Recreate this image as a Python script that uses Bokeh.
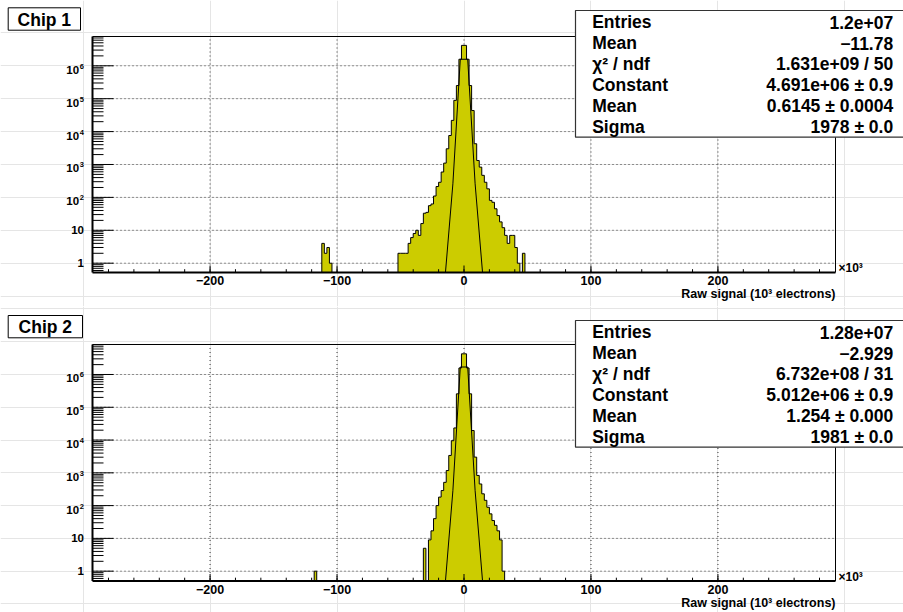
import numpy as np
from bokeh.plotting import figure
from bokeh.layouts import column
from bokeh.models import Range1d
from bokeh.core.properties import value
from bokeh.embed import file_html
from bokeh.resources import INLINE

# ---------------- data (x in 10^3 electrons, 2k-electron bins) ----------------
BIN_W = 2.0
X_LO, X_HI = -292.6, 292.6
HIST_LO, HIST_HI = -292.0, 292.0

chip_names = ["Chip 1", "Chip 2"]

chip1_core_start = -52
chip1_core_counts = [2, 2, 2, 2, 4, 6, 8, 10, 7, 16, 33, 35, 56, 63, 110, 214, 288, 590,
                     1100, 3000, 7600, 21900, 89000, 251000, 1580000, 4170000,
                     4170000, 1580000, 251000, 43600, 4270, 1320, 832, 468, 288, 182,
                     81, 71, 45, 28, 18, 12, 7, 4, 7, 7, 3, 1, 0, 2]
chip1_iso_start = [-112, -110, -108, -106]
chip1_iso_counts = [4, 2, 3, 1]

chip2_core_start = -32
chip2_core_counts = [5, 0, 9, 17, 40, 100, 182, 288, 513, 1175, 3390, 9550, 23400,
                     257000, 1580000, 4270000,
                     4270000, 1580000, 257000, 19500, 3020, 832, 457, 229, 145, 89,
                     56, 35, 25, 17, 9, 1]
chip2_iso_start = [-118]
chip2_iso_counts = [1]

chip1_fit = {"const": 4.691e6, "mean": 0.6145, "sigma": 1978.0}   # mean/sigma in electrons
chip2_fit = {"const": 5.012e6, "mean": 1.254, "sigma": 1981.0}

stat_names = ["Entries", "Mean", "\u03c7\u00b2 / ndf", "Constant", "Mean", "Sigma"]
chip1_stat_values = ["1.2e+07", "\u221211.78", "1.631e+09 / 50", "4.691e+06 \u00b1 0.9",
                     "0.6145 \u00b1 0.0004", "1978 \u00b1 0.0"]
chip2_stat_values = ["1.28e+07", "\u22122.929", "6.732e+08 / 31", "5.012e+06 \u00b1 0.9",
                     "1.254 \u00b1 0.000", "1981 \u00b1 0.0"]

x_major_ticks = [-200, -100, 0, 100, 200]
x_minor_ticks = list(range(-280, 281, 20))
y_major_exp = [0, 1, 2, 3, 4, 5, 6]
x_title = "Raw signal (10\u00b3 electrons)"
x_exponent = "\u00d710\u00b3"

# ---------------- style / layout ----------------
FILL = "#cccc00"
GRID = "#333333"
FONT = value("Liberation Sans")
W, H = 903, 306
FL, FR = 92, 835
SUP = "\u2070\u00b9\u00b2\u00b3\u2074\u2075\u2076\u2077\u2078\u2079"


def make_panel(chip, core_start, core_counts, iso_start, iso_counts, fit, values,
               y_lo_log, y_hi_log, ft, fb, chip_box, stats_box):
    def xa(px):
        return X_LO + (px - FL) / (FR - FL) * (X_HI - X_LO)

    def ya(py):
        return 10 ** (y_lo_log + (fb - py) / (fb - ft) * (y_hi_log - y_lo_log))

    p = figure(width=W, height=H, x_range=Range1d(xa(0), xa(W)),
               y_range=Range1d(ya(H), ya(0)), y_axis_type="log",
               x_axis_location=None, y_axis_location=None,
               output_backend="svg", toolbar_location=None, title=None,
               min_border=0)
    p.min_border_left = p.min_border_right = 0
    p.min_border_top = p.min_border_bottom = 0
    p.outline_line_color = None
    p.background_fill_color = "white"
    p.border_fill_color = "white"

    ymin, ymax = 10 ** y_lo_log, 10 ** y_hi_log
    y_major = [10.0 ** e for e in y_major_exp]
    y_minor = [m * 10.0 ** d for d in range(-1, 8) for m in range(2, 10)
               if ymin <= m * 10.0 ** d <= ymax]

    # grid
    nx, ny = len(x_major_ticks), len(y_major)
    p.segment(x0=x_major_ticks, y0=[ymin] * nx, x1=x_major_ticks, y1=[ymax] * nx,
              line_color=GRID, line_dash="1 3", line_width=1)
    p.segment(x0=[X_LO] * ny, y0=y_major, x1=[X_HI] * ny, y1=y_major,
              line_color=GRID, line_dash="1 3", line_width=1)

    # histogram
    edges = np.arange(HIST_LO, HIST_HI + BIN_W / 2, BIN_W)
    counts = np.zeros(len(edges) - 1)

    def put(lo, vals):
        for k, v in enumerate(vals):
            counts[int(round((lo + k * BIN_W - HIST_LO) / BIN_W))] = v

    put(core_start, core_counts)
    for lo, v in zip(iso_start, iso_counts):
        put(lo, [v])
    step_x = np.repeat(edges, 2)[1:-1]
    step_y = np.repeat(np.maximum(counts, ymin), 2)
    p.patch(np.concatenate([[edges[0]], step_x, [edges[-1]]]),
            np.concatenate([[ymin], step_y, [ymin]]),
            fill_color=FILL, line_color=None)
    p.line(step_x, step_y, line_color="black", line_width=1)

    # gaussian fit, sampled like ROOT (npx = 100), clamped at the frame bottom
    npx = 100
    fx = HIST_LO + (np.arange(npx) + 0.5) * (HIST_HI - HIST_LO) / npx
    g = fit["const"] * np.exp(-0.5 * ((fx * 1e3 - fit["mean"]) / fit["sigma"]) ** 2)
    g = np.maximum(g, ymin)
    p.line(fx, g, line_color="black", line_width=1)

    # frame
    p.segment(x0=[X_LO, X_HI], y0=[ymax, ymin], x1=[X_HI, X_HI], y1=[ymax, ymax],
              line_color="black", line_width=1)
    p.segment(x0=[X_LO, X_LO], y0=[ymin, ymin], x1=[X_HI, X_LO], y1=[ymin, ymax],
              line_color="black", line_width=2)

    # ticks (ROOT style, inside the frame)
    p.segment(x0=[X_LO] * ny, y0=y_major, x1=[xa(FL + 21)] * ny, y1=y_major,
              line_color="black", line_width=1)
    p.segment(x0=[X_LO] * len(y_minor), y0=y_minor, x1=[xa(FL + 11)] * len(y_minor),
              y1=y_minor, line_color="black", line_width=1)
    p.segment(x0=x_major_ticks, y0=[ymin] * nx, x1=x_major_ticks, y1=[ya(fb - 7)] * nx,
              line_color="black", line_width=1)
    p.segment(x0=x_minor_ticks, y0=[ymin] * len(x_minor_ticks), x1=x_minor_ticks,
              y1=[ya(fb - 3.3)] * len(x_minor_ticks), line_color="black", line_width=1)

    # tick labels
    x_labels = [("\u2212" + str(abs(t))) if t < 0 else str(t) for t in x_major_ticks]
    p.text(x=x_major_ticks, y=[ya(fb + 8.2)] * nx, text=x_labels, text_font=FONT,
           text_font_style="bold", text_font_size="12.5px", text_color="black",
           text_align="center", text_baseline="middle")
    plain = [(10.0 ** e, "1" if e == 0 else "10") for e in y_major_exp if e < 2]
    p.text(x=[xa(83.5)] * len(plain), y=[v for v, _ in plain], text=[t for _, t in plain],
           text_font=FONT, text_font_style="bold", text_font_size="11.5px",
           text_color="black", text_align="right", text_baseline="middle")
    powers = [e for e in y_major_exp if e >= 2]
    p.text(x=[xa(78.6)] * len(powers), y=[10.0 ** e for e in powers],
           text=["10"] * len(powers), y_offset=4, text_font=FONT,
           text_font_style="bold", text_font_size="11.5px", text_color="black",
           text_align="right", text_baseline="middle")
    p.text(x=[xa(79.2)] * len(powers), y=[10.0 ** e for e in powers],
           text=[str(e) for e in powers], y_offset=0.5, text_font=FONT,
           text_font_style="bold", text_font_size="7.5px", text_color="black",
           text_align="left", text_baseline="middle")

    # axis title and exponent
    p.text(x=[xa(FR)], y=[ya(fb + 21.8)], text=[x_title], text_font=FONT,
           text_font_style="bold", text_font_size="12.5px", text_color="black",
           text_align="right", text_baseline="middle")
    p.text(x=[xa(FR + 3)], y=[ya(fb - 4.5)], text=[x_exponent], text_font=FONT,
           text_font_style="bold", text_font_size="12px", text_color="black",
           text_align="left", text_baseline="middle")

    # chip box
    cl, ct, cr, cb = chip_box
    p.quad(left=[xa(cl)], right=[xa(cr)], top=[ya(ct)], bottom=[ya(cb)],
           fill_color="white", line_color="black", line_width=1)
    p.text(x=[xa((cl + cr) / 2)], y=[ya((ct + cb) / 2 + 0.5)], text=[chip],
           text_font=FONT, text_font_style="bold", text_font_size="17.5px",
           text_color="black", text_align="center", text_baseline="middle")

    # statistics box
    sl, st, sr, sb = stats_box
    p.quad(left=[xa(sl)], right=[xa(sr)], top=[ya(st)], bottom=[ya(sb)],
           fill_color="white", line_color="#333333", line_width=1.2)
    rows_y = [ya(st + 11.7 + 20.9 * i) for i in range(len(stat_names))]
    p.text(x=[xa(sl + 16.7)] * len(stat_names), y=rows_y, text=stat_names,
           text_font=FONT, text_font_style="bold", text_font_size="17.5px",
           text_color="black", text_align="left", text_baseline="middle")
    p.text(x=[xa(892.7)] * len(values), y=rows_y, text=values,
           text_font=FONT, text_font_style="bold", text_font_size="17.5px",
           text_color="black", text_align="right", text_baseline="middle")
    return p


p1 = make_panel(chip_names[0], chip1_core_start, chip1_core_counts, chip1_iso_start,
                chip1_iso_counts, chip1_fit, chip1_stat_values,
                -0.283, 6.89, 36, 272,
                (7.7, 7.3, 80, 29.7), (575, 10, 906, 136.7))
p2 = make_panel(chip_names[1], chip2_core_start, chip2_core_counts, chip2_iso_start,
                chip2_iso_counts, chip2_fit, chip2_stat_values,
                -0.30, 6.915, 38, 274.5,
                (7.7, 9, 82, 31.3), (575, 14, 906, 140.7))

layout = column(p1, p2)
open("out.html", "w").write(file_html(layout, INLINE))
